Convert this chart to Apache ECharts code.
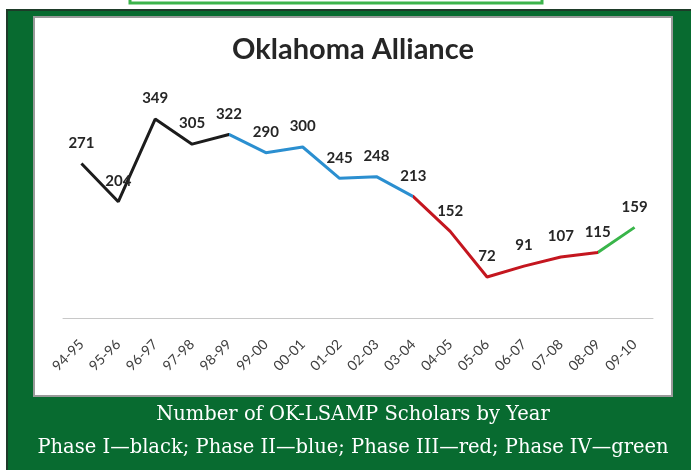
<!DOCTYPE html>
<html>
<head>
<meta charset="utf-8">
<script src="https://cdn.jsdelivr.net/npm/echarts@6/dist/echarts.min.js"></script>
<style>
  html, body { margin: 0; padding: 0; background: #fff; }
  #chart { width: 691px; height: 470px; }
</style>
</head>
<body>
<div id="chart"></div>
<script>
// school years on the x axis
const years = ['94-95', '95-96', '96-97', '97-98', '98-99', '99-00', '00-01', '01-02',
    '02-03', '03-04', '04-05', '05-06', '06-07', '07-08', '08-09', '09-10'];
// number of OK-LSAMP scholars
const scholars = [271, 204, 349, 305, 322, 290, 300, 245, 248, 213, 152, 72, 91, 107, 115, 159];
// index of the last year of phases I..III (phase IV runs to the end)
const phaseEnds = [4, 9, 14];
const phaseColors = ['#1c1c1c', '#2b8fd0', '#c4161f', '#39b54a'];

const chart = echarts.init(document.getElementById('chart'));

const pieces = [
    { lte: phaseEnds[0], color: phaseColors[0] },
    { gt: phaseEnds[0], lte: phaseEnds[1], color: phaseColors[1] },
    { gt: phaseEnds[1], lte: phaseEnds[2], color: phaseColors[2] },
    { gt: phaseEnds[2], color: phaseColors[3] }
];

// the white panel is a bit right of the page centre
const midX = 353;

const option = {
    animation: false,
    graphic: [
        { type: 'rect', z: -10, shape: { x: 7, y: 10, width: 690, height: 470 },
          style: { fill: '#086b30', stroke: '#1e3b29', lineWidth: 2 } },
        { type: 'rect', z: -10, shape: { x: 130, y: -10, width: 412, height: 13 },
          style: { fill: '#fff', stroke: '#3cb44b', lineWidth: 3 } },
        { type: 'rect', z: -9, shape: { x: 34, y: 17, width: 638, height: 379 },
          style: { fill: '#fff', stroke: '#9a9a9a', lineWidth: 2 } },
        { type: 'text', z: 5, x: midX, y: 50,
          style: { text: 'Oklahoma Alliance', fill: '#262626', align: 'center', verticalAlign: 'middle',
                   textAlign: 'center', textVerticalAlign: 'middle', font: 'bold 29px Lato' } },
        { type: 'text', z: 5, x: midX, y: 415,
          style: { text: 'Number of OK-LSAMP Scholars by Year', fill: '#fff',
                   align: 'center', verticalAlign: 'middle', textAlign: 'center', textVerticalAlign: 'middle',
                   font: '19.5px "DejaVu Serif"' } },
        { type: 'text', z: 5, x: midX, y: 448,
          style: { text: 'Phase I\u2014black; Phase II\u2014blue; Phase III\u2014red; Phase IV\u2014green',
                   fill: '#fff', align: 'center', verticalAlign: 'middle', textAlign: 'center', textVerticalAlign: 'middle',
                   font: '19.5px "DejaVu Serif"' } }
    ],
    grid: { left: 63, right: 38, top: 90, bottom: 152 },
    visualMap: {
        show: false,
        type: 'piecewise',
        dimension: 0,
        seriesIndex: 0,
        pieces: pieces
    },
    xAxis: {
        type: 'category',
        data: years,
        boundaryGap: true,
        axisLine: { lineStyle: { color: '#c8c8c8', width: 1 } },
        axisTick: { show: false },
        axisLabel: { rotate: 45, margin: 24, color: '#404040', fontSize: 14, fontFamily: 'Lato', interval: 0 }
    },
    yAxis: {
        type: 'value',
        min: 0,
        max: 400,
        show: false,
        splitLine: { show: false }
    },
    series: [{
        type: 'line',
        data: scholars,
        showSymbol: true,
        symbol: 'circle',
        symbolSize: 0,
        lineStyle: { width: 3 },
        label: {
            show: true,
            position: 'top',
            distance: 13,
            color: '#262626',
            fontFamily: 'Lato',
            fontWeight: 'bold',
            fontSize: 15
        }
    }]
};

chart.setOption(option);
</script>
</body>
</html>
